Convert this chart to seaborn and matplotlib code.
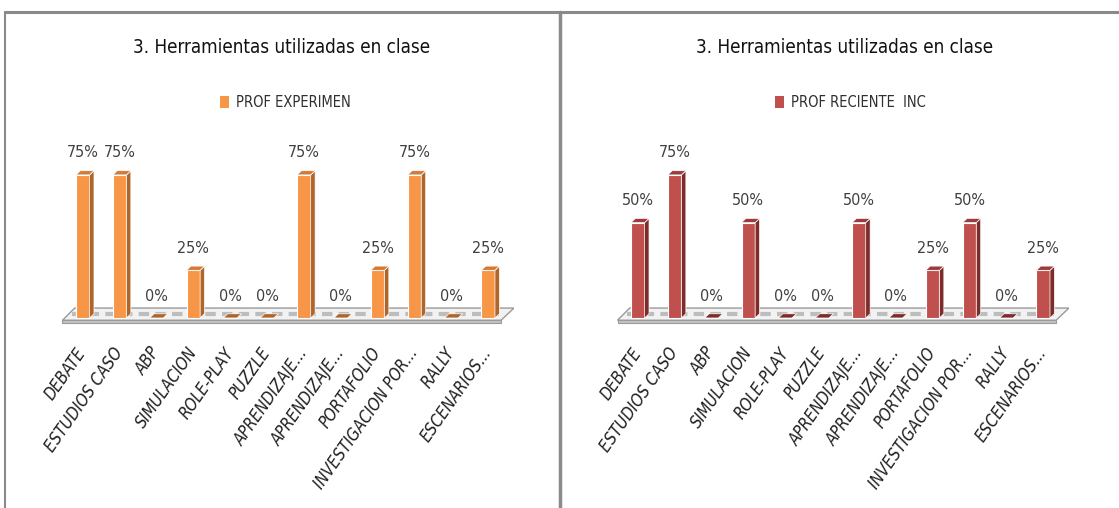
import matplotlib
matplotlib.use('Agg')
import matplotlib.pyplot as plt
import seaborn as sns
from matplotlib.patches import Polygon, Patch
from matplotlib.lines import Line2D

# datos
categorias = ['DEBATE', 'ESTUDIOS CASO', 'ABP', 'SIMULACION', 'ROLE-PLAY', 'PUZZLE',
              'APRENDIZAJE...', 'APRENDIZAJE...', 'PORTAFOLIO', 'INVESTIGACION POR...',
              'RALLY', 'ESCENARIOS...']
prof_experimen = [0.75, 0.75, 0.0, 0.25, 0.0, 0.0, 0.75, 0.0, 0.25, 0.75, 0.0, 0.25]
prof_reciente = [0.50, 0.75, 0.0, 0.50, 0.0, 0.0, 0.50, 0.0, 0.25, 0.50, 0.0, 0.25]
titulo = '3. Herramientas utilizadas en clase'

sns.set_style('white')
plt.rcParams['font.family'] = ['DejaVu Sans']
plt.rcParams['font.stretch'] = 'condensed'

fig = plt.figure(figsize=(11.19, 5.08), dpi=100)

paneles = [
    (prof_experimen, 'PROF EXPERIMEN', ('#F79646', '#B0652A', '#D27A36'), 0.0509, 0.252, 0.255),
    (prof_reciente, 'PROF RECIENTE  INC', ('#C0504D', '#7E2C2A', '#9C3B39'), 0.5469, 0.755, 0.76),
]

dx, dy = 0.12, 0.022  # profundidad del efecto 3D

for valores, nombre, (c_frente, c_lado, c_techo), x0, xt, xl in paneles:
    ax = fig.add_axes([x0, 0.3504, 0.4084, 0.374])
    n = len(categorias)

    # piso
    ax.add_patch(Polygon([(-0.55, -0.012), (n - 0.65, -0.012), (n - 0.3, 0.052), (-0.22, 0.052)],
                         closed=True, facecolor='#f2f2f2', edgecolor='#9a9a9a', lw=1, zorder=0))
    ax.add_patch(Polygon([(-0.55, -0.012), (n - 0.65, -0.012), (n - 0.65, -0.028), (-0.55, -0.028)],
                         closed=True, facecolor='#c4c4c4', edgecolor='#9a9a9a', lw=0.8, zorder=0))
    ax.plot([-0.3, n - 0.55], [0.02, 0.02], color='#bdbdbd', lw=3,
            dashes=(2.5, 1.5), zorder=1)

    df_x = list(range(n))
    sns.barplot(x=df_x, y=valores, ax=ax, color=c_frente, width=0.37,
                saturation=1, edgecolor='white', linewidth=0.8, zorder=3)

    for p, v in zip(ax.containers[0], valores):
        x1 = p.get_x()
        w = p.get_width()
        h = p.get_height()
        x2 = x1 + w
        # lado
        ax.add_patch(Polygon([(x2, 0), (x2 + dx, dy), (x2 + dx, h + dy), (x2, h)],
                             closed=True, facecolor=c_lado, edgecolor='white', lw=0.5, zorder=3))
        # techo
        ax.add_patch(Polygon([(x1, h), (x2, h), (x2 + dx, h + dy), (x1 + dx, h + dy)],
                             closed=True, facecolor=c_techo if h > 0 else c_lado,
                             edgecolor='white', lw=0.5, zorder=4))
        ax.text(x1 + w / 2, h + 0.115, f'{v:.0%}', ha='center', va='center',
                fontsize=11.5, color='#404040', zorder=5)

    ax.set_xlim(-0.7, n - 0.3)
    ax.set_ylim(-0.063, 0.933)
    ax.set_xticks(df_x)
    ax.set_xticklabels(categorias, rotation=55, ha='right', va='center', rotation_mode='anchor',
                       fontsize=12, fontstyle='italic', color='#202020')
    ax.tick_params(axis='x', length=0, pad=14)
    ax.set_yticks([])
    ax.set_xlabel('')
    ax.set_ylabel('')
    sns.despine(ax=ax, left=True, bottom=True)

    fig.text(xt, 0.907, titulo, ha='center', va='center', fontsize=13.5, color='#111111')
    ax.legend(handles=[Patch(facecolor=c_frente, edgecolor='none', label=nombre)],
              loc='center', bbox_to_anchor=(xl, 0.799), bbox_transform=fig.transFigure,
              frameon=False, fontsize=10.5, handlelength=0.6, handleheight=0.9,
              handletextpad=0.5, labelcolor='#303030')

# bordes de los paneles
fig.add_artist(Line2D([0.0045, 1.0], [0.976, 0.976], color='#8a8a8a', lw=2.2))
fig.add_artist(Line2D([0.0045, 0.0045], [0.0, 0.976], color='#8a8a8a', lw=1.5))
fig.add_artist(Line2D([0.5005, 0.5005], [0.0, 0.976], color='#8a8a8a', lw=2.5))

plt.savefig('out.png', dpi=100)
